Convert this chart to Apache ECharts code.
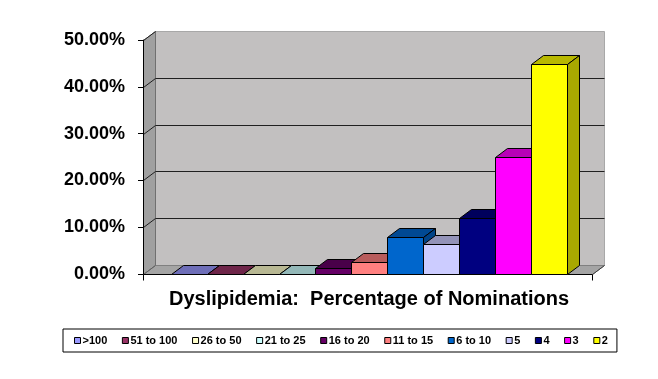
<!DOCTYPE html>
<html>
<head>
<meta charset="utf-8">
<script src="https://cdn.jsdelivr.net/npm/echarts@6/dist/echarts.min.js"></script>
<style>html,body{margin:0;padding:0;background:#fff}#c{width:658px;height:379px}</style>
</head>
<body>
<div id="c"></div>
<script>
// ---- data ----
var categories = ['>100','51 to 100','26 to 50','21 to 25','16 to 20','11 to 15','6 to 10','5','4','3','2'];
var values = [0, 0, 0, 0, 1.2, 2.5, 7.8, 6.4, 11.9, 24.9, 44.8];
var colors = ['#9999FF','#993366','#FFFFCC','#CCFFFF','#660066','#FF8080','#0066CC','#CCCCFF','#000080','#FF00FF','#FFFF00'];
var yTicks = [0, 10, 20, 30, 40, 50];
var axisTitle = 'Dyslipidemia:  Percentage of Nominations';

// ---- layout / style ----
var FONT = '"Liberation Sans", Arial, sans-serif';
var DX = 12, DY = -9;           // 3D depth offset
var X_MIN = -0.778, X_MAX = 11.694;

function shade(hex, f) {
  var n = parseInt(hex.slice(1), 16);
  var r = Math.round(((n >> 16) & 255) * f), g = Math.round(((n >> 8) & 255) * f), b = Math.round((n & 255) * f);
  return 'rgb(' + r + ',' + g + ',' + b + ')';
}
function px(v) { return Math.round(v) + 0.5; }

var chart = echarts.init(document.getElementById('c'), null, {renderer: 'canvas'});

var series = [];
// frame (walls, floor, gridlines)
series.push({
  type: 'custom', name: '__frame', silent: true, clip: false, z: 1,
  data: [[0, 0]],
  renderItem: function (params, api) {
    var fl = api.coord([X_MIN, 0]), fr = api.coord([X_MAX, 0]);
    var tl = api.coord([X_MIN, yTicks[yTicks.length - 1]]);
    var x0 = px(fl[0]), x1 = px(fr[0]), yb = px(fl[1]), yt = px(tl[1]);
    var ch = [];
    ch.push({type: 'polygon', shape: {points: [[x0 + DX, yt + DY], [x1 + DX, yt + DY], [x1 + DX, yb + DY], [x0 + DX, yb + DY]]},
      style: {fill: '#C2C0C0', stroke: '#A8A8A8', lineWidth: 1}});
    ch.push({type: 'polygon', shape: {points: [[x0, yt], [x0 + DX, yt + DY], [x0 + DX, yb + DY], [x0, yb]]},
      style: {fill: '#A0A0A0', stroke: '#707070', lineWidth: 1}});
    ch.push({type: 'polygon', shape: {points: [[x0, yb], [x0 + DX, yb + DY], [x1 + DX, yb + DY], [x1, yb]]},
      style: {fill: '#A4A4A4', stroke: '#808080', lineWidth: 1}});
    for (var i = 0; i < yTicks.length; i++) {
      var y = px(api.coord([X_MIN, yTicks[i]])[1]);
      if (i > 0 && i < yTicks.length - 1) {
        ch.push({type: 'line', shape: {x1: x0 + DX, y1: y + DY, x2: x1 + DX, y2: y + DY}, style: {stroke: '#202020', lineWidth: 1}});
      }
      ch.push({type: 'line', shape: {x1: x0, y1: y, x2: x0 + DX, y2: y + DY}, style: {stroke: i === 0 ? '#606060' : '#202020', lineWidth: 1}});
    }
    ch.push({type: 'line', shape: {x1: x0, y1: yb, x2: x1, y2: yb}, style: {stroke: '#000', lineWidth: 1}});
    ch.push({type: 'line', shape: {x1: x1, y1: yb, x2: x1 + DX, y2: yb + DY}, style: {stroke: '#404040', lineWidth: 1}});
    ch.push({type: 'line', shape: {x1: x0, y1: yb, x2: x0, y2: yb + 6}, style: {stroke: '#000', lineWidth: 1}});
    ch.push({type: 'line', shape: {x1: x1, y1: yb, x2: x1, y2: yb + 6}, style: {stroke: '#000', lineWidth: 1}});
    return {type: 'group', children: ch};
  }
});

categories.forEach(function (name, i) {
  series.push({
    type: 'custom', name: name, clip: false, z: 2,
    itemStyle: {color: colors[i]},
    data: [[i, values[i]]],
    renderItem: function (params, api) {
      var idx = api.value(0), v = api.value(1);
      var b = api.coord([idx, 0]), t = api.coord([idx + 1, v]);
      var x0 = px(b[0]), x1 = px(t[0]), yb = px(b[1]), yt = px(t[1]);
      var col = colors[idx];
      var st = {stroke: '#000', lineWidth: 1};
      var ch = [];
      ch.push({type: 'polygon', shape: {points: [[x0, yt], [x1, yt], [x1 + DX, yt + DY], [x0 + DX, yt + DY]]},
        style: Object.assign({fill: shade(col, 0.72)}, st)});
      if (yb - yt > 0.5) {
        ch.push({type: 'polygon', shape: {points: [[x1, yt], [x1 + DX, yt + DY], [x1 + DX, yb + DY], [x1, yb]]},
          style: Object.assign({fill: shade(col, 0.66)}, st)});
        ch.push({type: 'rect', shape: {x: x0, y: yt, width: x1 - x0, height: yb - yt},
          style: Object.assign({fill: col}, st)});
      }
      return {type: 'group', children: ch};
    }
  });
});

chart.setOption({
  animation: false,
  backgroundColor: '#ffffff',
  grid: {left: 143, right: 66, top: 40, bottom: 105, containLabel: false},
  xAxis: {type: 'value', min: X_MIN, max: X_MAX, show: false},
  yAxis: {
    type: 'value', min: yTicks[0], max: yTicks[yTicks.length - 1], interval: 10,
    axisLine: {show: true, onZero: false, lineStyle: {color: '#000', width: 1}},
    axisTick: {show: true, length: 5, lineStyle: {color: '#000'}},
    splitLine: {show: false},
    axisLabel: {margin: 18, color: '#000', fontFamily: FONT, fontWeight: 'bold', fontSize: 18,
      formatter: function (v) { return v.toFixed(2) + '%'; }},
    z: 5
  },
  legend: {
    data: categories,
    left: 63, top: 329,
    padding: [5, 9, 5, 11],
    itemGap: 14.6, itemWidth: 6, itemHeight: 6,
    icon: 'rect',
    itemStyle: {borderColor: '#000', borderWidth: 1},
    borderColor: '#000', borderWidth: 1,
    textStyle: {fontFamily: FONT, fontWeight: 'bold', fontSize: 11, color: '#000', lineHeight: 13, padding: [0, 0, 0, -3]},
    selectedMode: false
  },
  graphic: [{
    type: 'text', x: 369, y: 299,
    style: {text: axisTitle, fontFamily: FONT, fontWeight: 'bold', fontSize: 20, fill: '#000',
      textAlign: 'center', textVerticalAlign: 'middle'}
  }],
  series: series
});
</script>
</body>
</html>
